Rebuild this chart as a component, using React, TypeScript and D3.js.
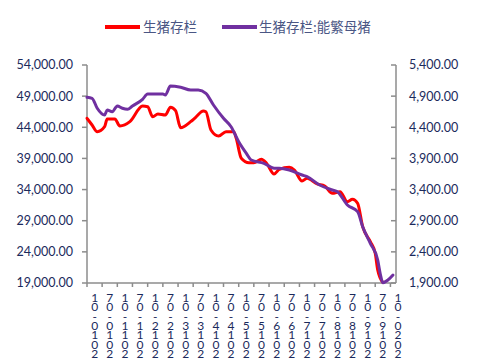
import React from 'react';
import * as d3 from 'd3';

// 生猪存栏 (left axis)
const hogDates = ['2009-10','2009-12','2010-02','2010-05','2010-06','2010-09','2010-11','2011-03','2011-08','2011-10','2011-12','2012-02','2012-05','2012-07','2012-09','2012-11','2013-03','2013-05','2013-08','2013-09','2013-11','2014-02','2014-05','2014-08','2014-09','2014-11','2015-02','2015-04','2015-07','2015-09','2015-12','2016-02','2016-06','2016-08','2016-11','2017-01','2017-05','2017-08','2017-11','2018-02','2018-05','2018-07','2018-09','2018-11','2019-02','2019-04','2019-05','2019-07'];
const hogValues = [45440,44370,43290,44090,45330,45330,44210,44900,47420,47300,45700,46130,45970,47210,46660,43930,44900,45600,46610,46500,43560,42600,43290,43290,42230,39020,38310,38310,38860,38220,36500,37250,37580,37140,35380,35810,34900,34570,33400,33660,32050,32440,31800,28040,25630,23770,21090,19100];

// 生猪存栏:能繁母猪 (right axis)
const sowDates = ['2009-10','2009-12','2010-02','2010-05','2010-06','2010-08','2010-10','2010-12','2011-02','2011-04','2011-08','2011-10','2012-04','2012-05','2012-07','2012-11','2013-03','2013-06','2013-09','2013-12','2014-04','2014-07','2014-10','2015-01','2015-03','2015-08','2015-12','2016-02','2016-06','2016-11','2017-01','2017-06','2017-11','2018-01','2018-05','2018-09','2018-11','2019-02','2019-05','2019-06','2019-07','2019-09','2019-11'];
const sowValues = [4881,4865,4705,4597,4677,4650,4742,4705,4689,4742,4849,4934,4934,4918,5063,5042,4999,4999,4946,4758,4544,4409,4169,3982,3875,3822,3742,3742,3714,3634,3607,3473,3393,3366,3152,3045,2804,2537,2269,2045,1905,1948,2028];

const leftTicks = [19000,24000,29000,34000,39000,44000,49000,54000];
const rightTicks = [1900,2400,2900,3400,3900,4400,4900,5400];
const xLabels = ['2010-01','2010-07','2011-01','2011-07','2012-01','2012-07','2013-01','2013-07','2014-01','2014-07','2015-01','2015-07','2016-01','2016-07','2017-01','2017-07','2018-01','2018-07','2019-01','2019-07','2020-01'];
const legendNames = ['生猪存栏', '生猪存栏:能繁母猪'];

const parse = d3.timeParse('%Y-%m');
const fmt = d3.format(',.2f');

const W = 477, H = 363;
const L = 87, R = 396, T = 65, B = 283;
const RED = '#FF0000';
const PURPLE = '#7030A0';
const AXIS = '#8C8C8C';
const TXT = '#1B2A5C';
const FONT = 'Lato, "Liberation Sans", sans-serif';

export default function App() {
  const x = d3.scaleTime()
    .domain([parse('2009-10') as Date, parse('2019-11') as Date])
    .range([L, 393]);
  const yL = d3.scaleLinear().domain([19000, 54000]).range([B, T]);
  const yR = d3.scaleLinear().domain([1900, 5400]).range([B, T]);

  const hog = hogDates.map((d, i) => ({ d: parse(d) as Date, v: hogValues[i] }));
  const sow = sowDates.map((d, i) => ({ d: parse(d) as Date, v: sowValues[i] }));

  const hogLine = d3.line<{ d: Date; v: number }>()
    .x(p => x(p.d)).y(p => yL(p.v)).curve(d3.curveMonotoneX);
  const sowLine = d3.line<{ d: Date; v: number }>()
    .x(p => x(p.d)).y(p => yR(p.v)).curve(d3.curveMonotoneX);

  const labelDates = xLabels.map(s => parse(s) as Date);
  const tickDates = labelDates.map(d => d3.timeMonth.offset(d, -3));

  return (
    <svg width={W} height={H} style={{ position: 'absolute', left: 0, top: 0, background: '#fff' }}>
      {/* legend */}
      <line x1={105} x2={140} y1={27} y2={27} stroke={RED} strokeWidth={4} />
      <text x={143} y={32} fontFamily='"Noto Sans CJK SC", sans-serif' fontSize={13.5} fill="#4A5684">{legendNames[0]}</text>
      <line x1={222} x2={257} y1={27} y2={27} stroke={PURPLE} strokeWidth={4} />
      <text x={259} y={32} fontFamily='"Noto Sans CJK SC", sans-serif' fontSize={13.5} fill="#4A5684">{legendNames[1]}</text>

      {/* left axis */}
      <line x1={L} x2={L} y1={T} y2={B} stroke={AXIS} strokeWidth={1.5} />
      {leftTicks.map(t => (
        <g key={'l' + t}>
          <line x1={L - 5} x2={L} y1={yL(t)} y2={yL(t)} stroke={AXIS} strokeWidth={1.5} />
          <text x={73} y={yL(t)} dy="0.35em" textAnchor="end" fontFamily={FONT} fontSize={12.5} fill={TXT}>{fmt(t)}</text>
        </g>
      ))}

      {/* right axis */}
      <line x1={R} x2={R} y1={T} y2={B} stroke={AXIS} strokeWidth={1.5} />
      {rightTicks.map(t => (
        <g key={'r' + t}>
          <line x1={R - 5} x2={R} y1={yR(t)} y2={yR(t)} stroke={AXIS} strokeWidth={1.5} />
          <text x={409} y={yR(t)} dy="0.35em" textAnchor="start" fontFamily={FONT} fontSize={12.5} fill={TXT}>{fmt(t)}</text>
        </g>
      ))}

      {/* x axis */}
      <line x1={L} x2={R} y1={B} y2={B} stroke={AXIS} strokeWidth={1.5} />
      {tickDates.map((d, i) => (
        <line key={'t' + i} x1={x(d)} x2={x(d)} y1={B} y2={B + 4} stroke={AXIS} strokeWidth={1.5} />
      ))}
      {xLabels.map((s, i) => {
        const cx = x(labelDates[i]);
        const chars = s.split('').reverse();
        return (
          <text key={'x' + s} fontFamily={FONT} fontSize={12} fill={TXT} textAnchor="middle">
            {chars.map((c, j) => (
              <tspan key={j} x={cx} y={302 + j * 9.33}>{c}</tspan>
            ))}
          </text>
        );
      })}

      {/* series */}
      <path d={hogLine(hog) || ''} fill="none" stroke={RED} strokeWidth={3} strokeLinejoin="round" strokeLinecap="round" />
      <path d={sowLine(sow) || ''} fill="none" stroke={PURPLE} strokeWidth={3} strokeLinejoin="round" strokeLinecap="round" />
    </svg>
  );
}
